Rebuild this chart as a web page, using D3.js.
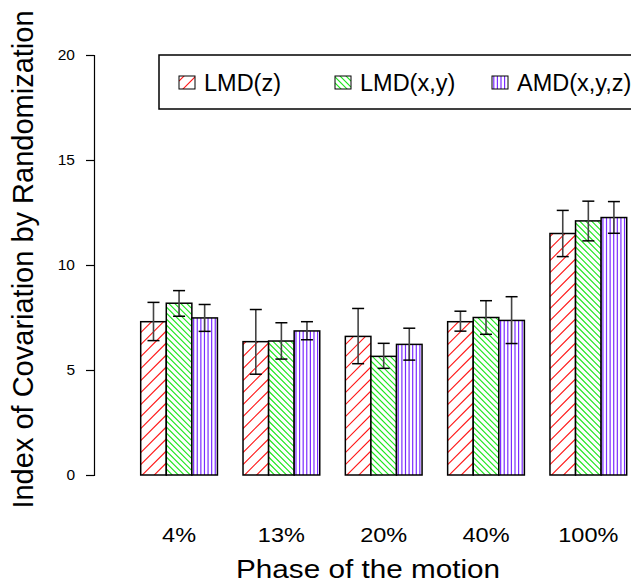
<!DOCTYPE html>
<html>
<head>
<meta charset="utf-8">
<script src="https://cdn.jsdelivr.net/npm/d3@7"></script>
<style>
	body { margin: 0; background: #fff; }
	svg { display: block; font-family: 'Liberation Sans', Arial, Helvetica, sans-serif; }
</style>
</head>
<body>
<div id="chart"></div>
<script>

var phases = ['4%', '13%', '20%', '40%', '100%'];
var series = ['LMD(z)', 'LMD(x,y)', 'AMD(x,y,z)'];
var yTicks = [0, 5, 10, 15, 20];

// mean, lower and upper error per series, one value per phase
var lmdZ = [7.30, 6.35, 6.60, 7.30, 11.50];
var lmdZLow = [6.40, 4.80, 5.30, 6.85, 10.40];
var lmdZHigh = [8.22, 7.88, 7.93, 7.80, 12.60];

var lmdXY = [8.18, 6.38, 5.65, 7.50, 12.10];
var lmdXYLow = [7.56, 5.52, 5.08, 6.70, 11.15];
var lmdXYHigh = [8.78, 7.25, 6.27, 8.30, 13.04];

var amd = [7.48, 6.86, 6.22, 7.36, 12.26];
var amdLow = [6.84, 6.44, 5.47, 6.26, 11.51];
var amdHigh = [8.12, 7.30, 6.99, 8.49, 13.02];

var means = [lmdZ, lmdXY, amd];
var lows = [lmdZLow, lmdXYLow, amdLow];
var highs = [lmdZHigh, lmdXYHigh, amdHigh];

var width = 631;
var height = 587;

var svg = d3.select('#chart').append('svg')
	.attr('width', width)
	.attr('height', height);

var defs = svg.append('defs');
var clipId = 0;

// hatch styles: 0 = '/', 1 = '\', 2 = '|'
var hatchColors = ['#ff1a1a', '#1ee61e', '#7a2cff'];
var hatchGap = [12, 6, 3.6];
var hatchWidth = [1.1, 1.1, 1.2];

function hatch(g, bx, by, bw, bh, type) {
	var id = 'clip' + (clipId++);
	defs.append('clipPath').attr('id', id)
		.append('rect').attr('x', bx).attr('y', by).attr('width', bw).attr('height', bh);

	var gap = hatchGap[type];
	var d = '';
	if (type === 2) {
		d3.range(bx + gap / 2, bx + bw, gap).forEach(function(px) {
			d += 'M' + px + ' ' + by + 'V' + (by + bh);
		});
	} else {
		// lines anchored to the bar bottom
		var base = by + bh;
		d3.range(-bw - gap, bh + gap, gap).forEach(function(o) {
			if (type === 0)
				d += 'M' + bx + ' ' + (base - o) + 'L' + (bx + bw) + ' ' + (base - o - bw);
			else
				d += 'M' + bx + ' ' + (base - o - bw) + 'L' + (bx + bw) + ' ' + (base - o);
		});
	}

	g.append('rect')
		.attr('x', bx).attr('y', by).attr('width', bw).attr('height', bh)
		.attr('fill', '#fff');
	g.append('path')
		.attr('clip-path', 'url(#' + id + ')')
		.attr('d', d)
		.attr('fill', 'none')
		.attr('stroke', hatchColors[type])
		.attr('stroke-width', hatchWidth[type]);
}

var y = d3.scaleLinear().domain([0, 20]).range([475, 55]);

var x = d3.scaleBand()
	.domain(phases)
	.range([140.7, 626.7])
	.paddingInner(0.25)
	.paddingOuter(0);

var xs = d3.scaleBand()
	.domain(d3.range(series.length))
	.range([0, x.bandwidth()]);

// y axis
var yAxis = svg.append('g')
	.attr('transform', 'translate(94,0)')
	.call(d3.axisLeft(y).tickValues(yTicks).tickSize(8).tickPadding(11));

yAxis.select('.domain').attr('stroke', '#000').attr('stroke-width', 1.2);
yAxis.selectAll('.tick line').attr('stroke', '#000').attr('stroke-width', 1.2);
yAxis.selectAll('.tick text')
	.attr('font-size', 15.5)
	.attr('font-family', 'Liberation Sans, Arial, sans-serif')
	.attr('fill', '#000');

// bars
var groups = svg.append('g').selectAll('g')
	.data(phases)
	.join('g')
	.attr('transform', function(d) { return 'translate(' + x(d) + ',0)'; });

groups.each(function(phase, pi) {
	var g = d3.select(this);
	series.forEach(function(s, si) {
		var bx = xs(si);
		var bw = xs.bandwidth();
		var by = y(means[si][pi]);
		var bh = y(0) - by;

		hatch(g, bx, by, bw, bh, si);

		g.append('rect')
			.attr('x', bx)
			.attr('y', by)
			.attr('width', bw)
			.attr('height', bh)
			.attr('fill', 'none')
			.attr('stroke', '#000')
			.attr('stroke-width', 1.5);

		var cx = bx + bw / 2;
		g.append('line')
			.attr('x1', cx).attr('x2', cx)
			.attr('y1', y(lows[si][pi])).attr('y2', y(highs[si][pi]))
			.attr('stroke', '#444')
			.attr('stroke-width', 1.6);
		[lows[si][pi], highs[si][pi]].forEach(function(v) {
			g.append('line')
				.attr('x1', cx - 6).attr('x2', cx + 6)
				.attr('y1', y(v)).attr('y2', y(v))
				.attr('stroke', '#000')
				.attr('stroke-width', 1.5);
		});
	});
});

// category labels
svg.append('g').selectAll('text')
	.data(phases)
	.join('text')
	.attr('transform', function(d) { return 'translate(' + (x(d) + x.bandwidth() / 2) + ',541.5) scale(1.12,1)'; })
	.attr('text-anchor', 'middle')
	.attr('font-size', 21)
	.text(function(d) { return d; });

// axis titles
svg.append('text')
	.attr('x', 368)
	.attr('y', 578)
	.attr('text-anchor', 'middle')
	.attr('font-size', 26)
	.attr('textLength', 264)
	.attr('lengthAdjust', 'spacingAndGlyphs')
	.text('Phase of the motion');

svg.append('text')
	.attr('transform', 'translate(33,259.5) rotate(-90)')
	.attr('text-anchor', 'middle')
	.attr('font-size', 29)
	.text('Index of Covariation by Randomization');

// legend
var legend = svg.append('g');

legend.append('rect')
	.attr('x', 159)
	.attr('y', 55)
	.attr('width', 500)
	.attr('height', 54)
	.attr('fill', '#fff')
	.attr('stroke', '#000')
	.attr('stroke-width', 1.5);

var legendX = [179, 335, 492];

var items = legend.selectAll('g.item')
	.data(series)
	.join('g')
	.attr('class', 'item')
	.attr('transform', function(d, i) { return 'translate(' + legendX[i] + ',76)'; });

items.each(function(d, i) {
	var g = d3.select(this);
	hatch(g, 0, 0, 16, 13, i);
	g.append('rect')
		.attr('width', 16)
		.attr('height', 13)
		.attr('fill', 'none')
		.attr('stroke', '#000')
		.attr('stroke-width', 1);
});

items.append('text')
	.attr('x', 25)
	.attr('y', 14.5)
	.attr('font-size', 23.5)
	.text(function(d) { return d; });

</script>
</body>
</html>
